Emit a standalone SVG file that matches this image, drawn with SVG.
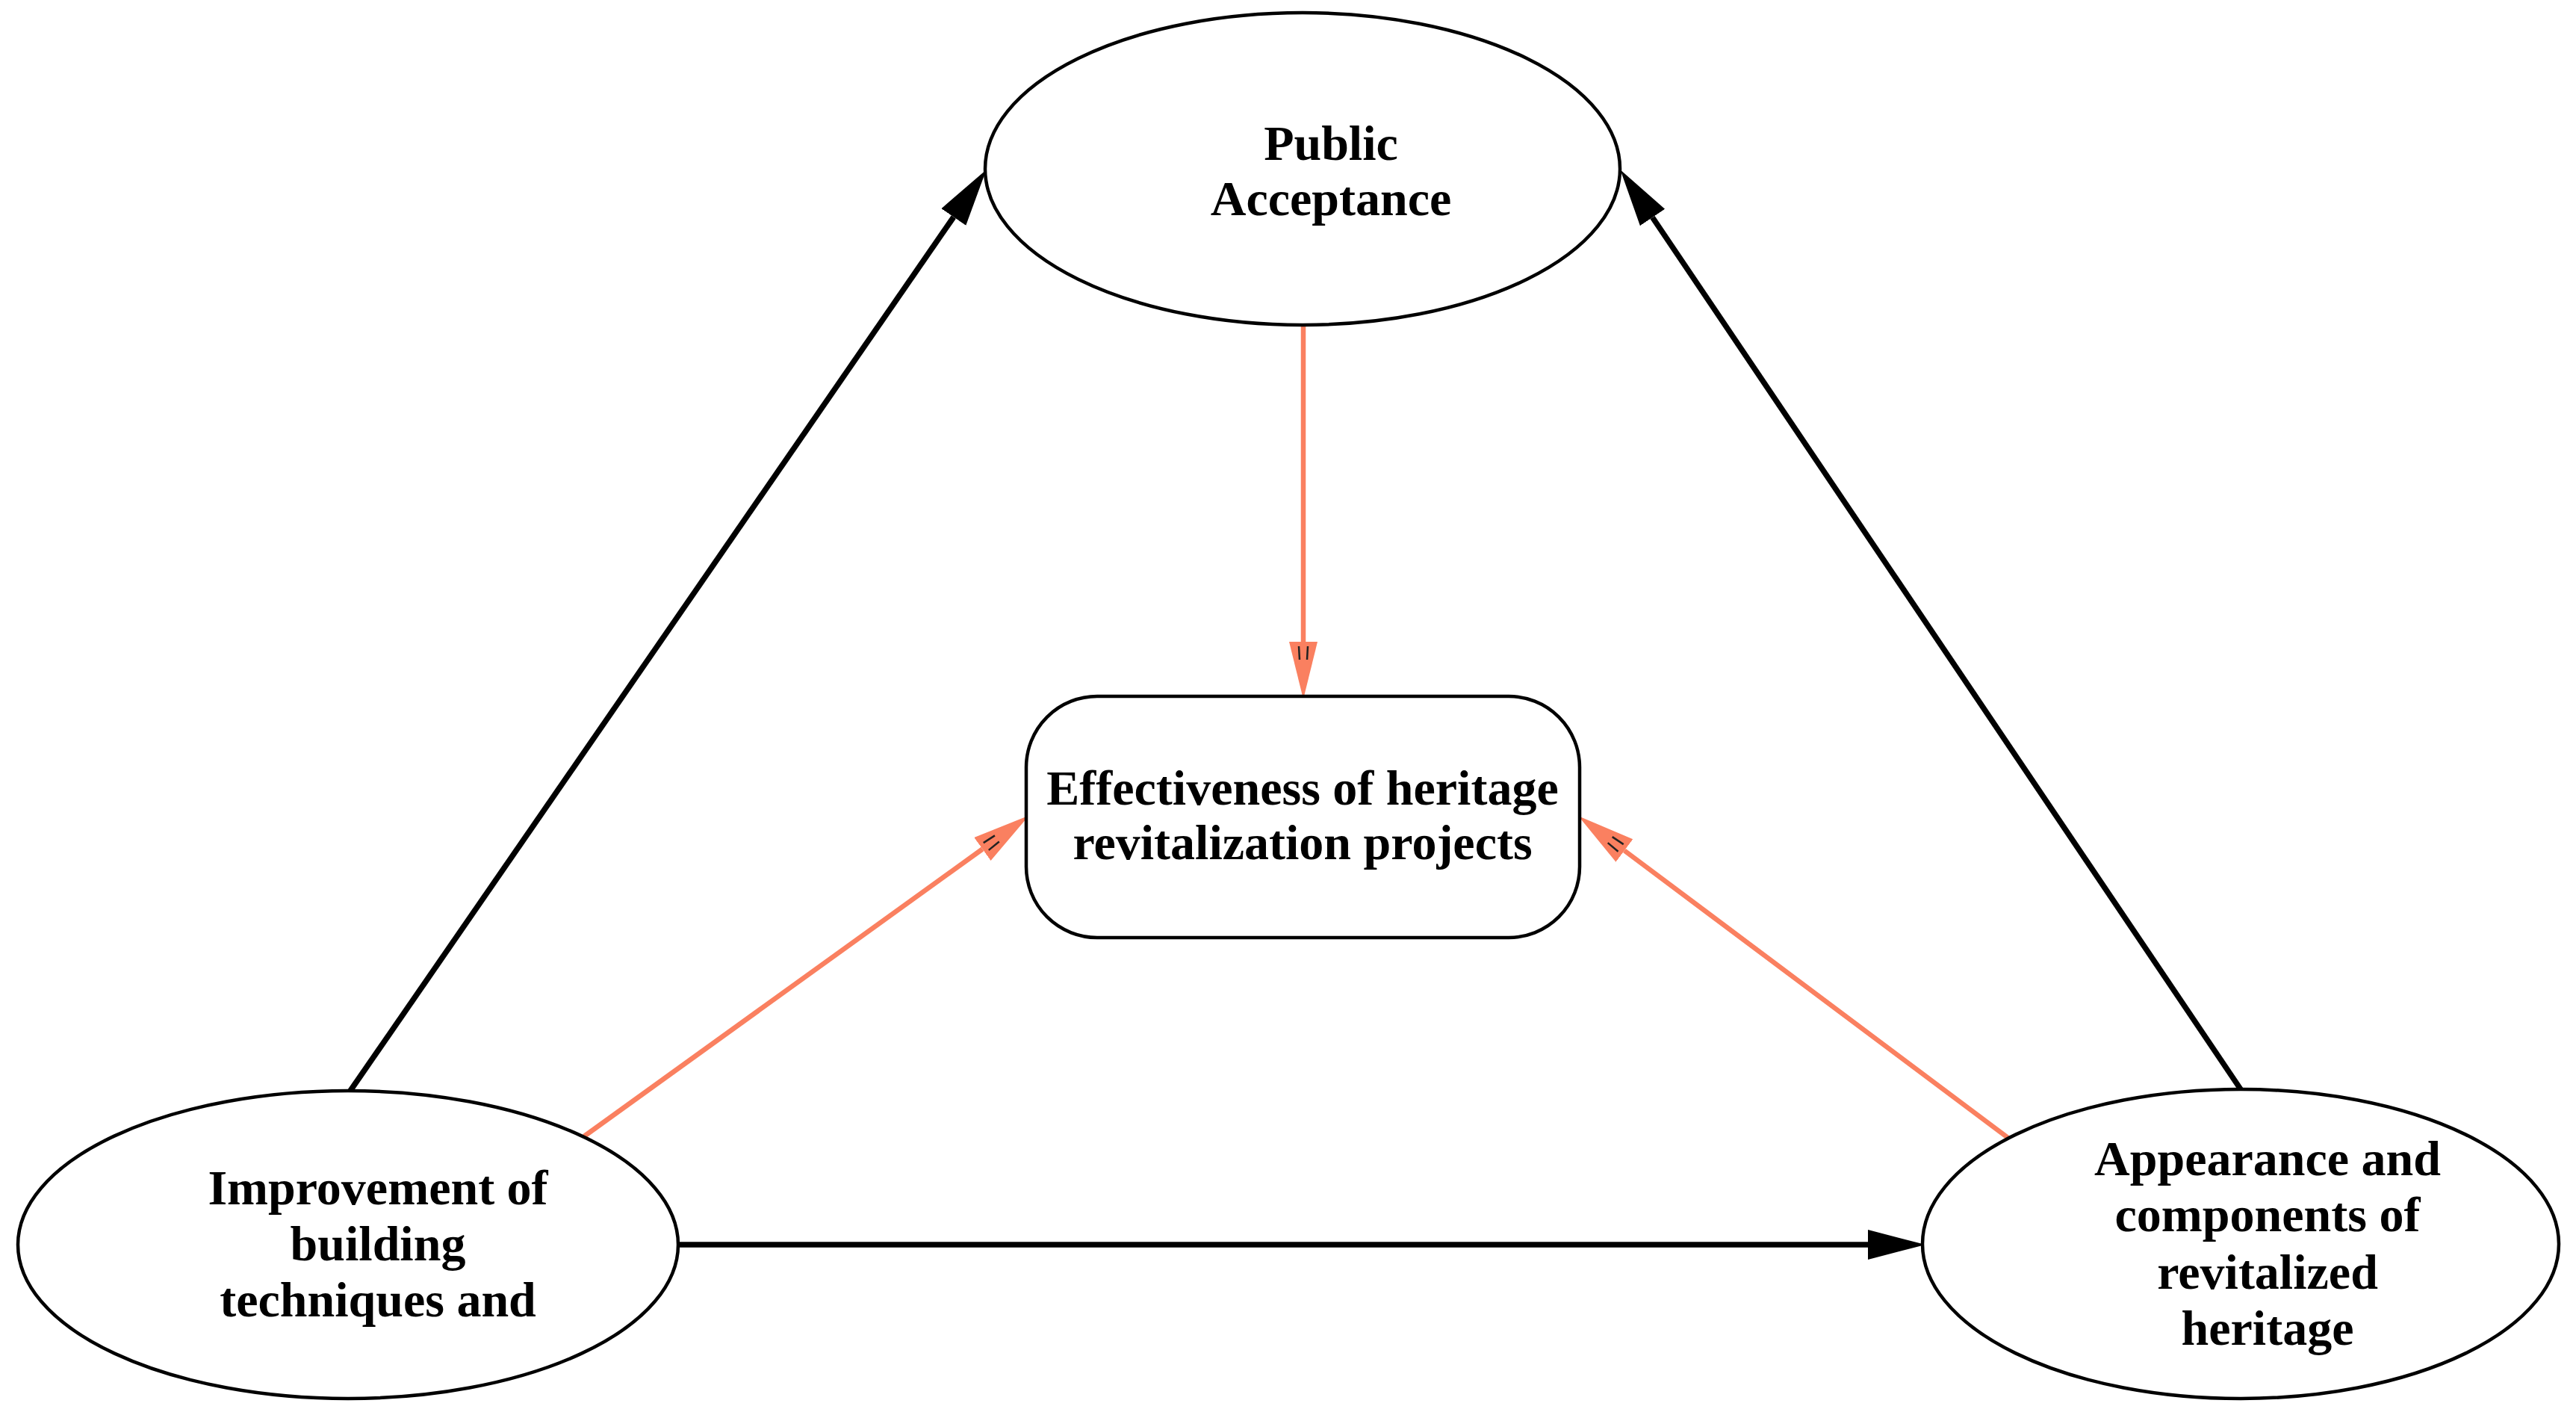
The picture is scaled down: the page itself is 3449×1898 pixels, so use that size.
<svg xmlns="http://www.w3.org/2000/svg" width="3449" height="1898" viewBox="0 0 3449 1898">
<style>
.node{fill:#fff;stroke:#000;stroke-width:4.5}
.lbl{font-family:"Liberation Serif","Times New Roman",serif;font-weight:bold;font-size:66px;fill:#000;text-anchor:middle}
.blk{stroke:#000;stroke-width:7.5;fill:none}
.org{stroke:#FA8060;stroke-width:6.5;fill:none}
</style>
<defs>
<marker id="ab" markerUnits="userSpaceOnUse" markerWidth="80" markerHeight="42" viewBox="0 0 80 42" refX="0" refY="21" orient="auto">
<path d="M0,1 L77,21 L0,41 z" fill="#000"/>
</marker>
<marker id="ao" markerUnits="userSpaceOnUse" markerWidth="80" markerHeight="42" viewBox="0 0 80 42" refX="0" refY="21" orient="auto">
<path d="M0,2 L77,21 L0,40 z" fill="#FA8060"/>
<path d="M6,15 L24,16 M6,27 L24,26" stroke="#222" stroke-width="2.5"/>
</marker>
</defs>
<rect width="3449" height="1898" fill="#fff"/>
<g id="connectors">
<line class="blk" x1="469" y1="1460" x2="1276.8" y2="290.5" marker-end="url(#ab)"/>
<line class="blk" x1="3000" y1="1458" x2="2212.5" y2="291" marker-end="url(#ab)"/>
<line class="blk" x1="909" y1="1666" x2="2501" y2="1666" marker-end="url(#ab)"/>
<line class="org" x1="1745" y1="436" x2="1745" y2="859" marker-end="url(#ao)"/>
<line class="org" x1="782" y1="1521" x2="1315.4" y2="1136.5" marker-end="url(#ao)"/>
<line class="org" x1="2690" y1="1524" x2="2174.9" y2="1138.5" marker-end="url(#ao)"/>
</g>
<g id="public-acceptance">
<ellipse class="node" cx="1744" cy="226" rx="425" ry="209"/>
<text class="lbl" x="1782" y="214">Public</text>
<text class="lbl" x="1782" y="288">Acceptance</text>
</g>
<g id="effectiveness">
<rect class="node" x="1374" y="932" width="741" height="323" rx="95" ry="95"/>
<text class="lbl" x="1744" y="1077">Effectiveness of heritage</text>
<text class="lbl" x="1744" y="1150">revitalization projects</text>
</g>
<g id="improvement">
<ellipse class="node" cx="466" cy="1666" rx="442" ry="206"/>
<text class="lbl" x="506" y="1612">Improvement of</text>
<text class="lbl" x="506" y="1687">building</text>
<text class="lbl" x="506" y="1762">techniques and</text>
</g>
<g id="appearance">
<ellipse class="node" cx="3000" cy="1665" rx="426" ry="207"/>
<text class="lbl" x="3036" y="1573">Appearance and</text>
<text class="lbl" x="3036" y="1648">components of</text>
<text class="lbl" x="3036" y="1725">revitalized</text>
<text class="lbl" x="3036" y="1800">heritage</text>
</g>
</svg>
